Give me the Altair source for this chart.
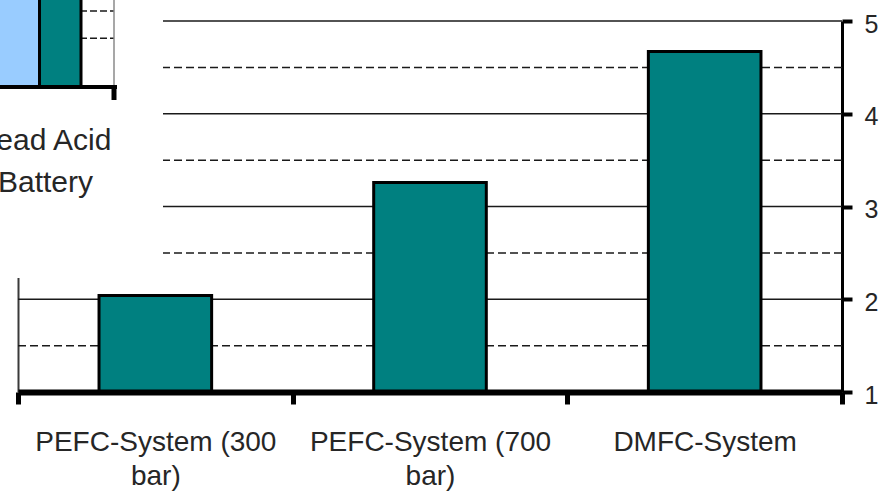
import altair as alt
import pandas as pd

# ---- data -------------------------------------------------------------
SYSTEMS = ["PEFC-System (300 bar)", "PEFC-System (700 bar)", "DMFC-System"]
SYSTEM_VALUES = [2.04, 3.26, 4.67]

Y_TICKS = [1, 2, 3, 4, 5]
GRID_MAJOR = [2, 3, 4, 5]
GRID_MINOR = [1.5, 2.5, 3.5, 4.5]

# inset panel: lead acid battery, its bars run past the top edge
INSET_CATEGORY = "Lead Acid Battery"
INSET_SERIES = ["Series A", "Series B"]
INSET_VALUES = [4.6, 4.6]
INSET_GRID = [2, 3]
INSET_Y_DOMAIN = [0.2, 3]

# ---- styling / layout ---------------------------------------------------
TEAL = "#008080"
LIGHT_BLUE = "#99CCFF"
TEXT = "#262626"
FONT = "Liberation Sans"

W, H = 824, 371
PAD = {"left": 18, "top": 21, "right": 42, "bottom": 104}

# inset frame, in plot-area pixels
INSET_X_RANGE = [-20, 63]
INSET_Y_RANGE = [66, -10]
INSET_RIGHT = 96
INSET_BG = dict(x=-18, x2=145, y=-21, y2=257)

SPLIT = ("lastindexof({s}, ' ') > 0 ? [substring({s}, 0, lastindexof({s}, ' ')), "
         "substring({s}, lastindexof({s}, ' ') + 1)] : {s}")

main_df = pd.DataFrame({"system": SYSTEMS, "value": SYSTEM_VALUES})
inset_df = pd.DataFrame({
    "category": [INSET_CATEGORY] * len(INSET_SERIES),
    "series": INSET_SERIES,
    "value": INSET_VALUES,
})
one = pd.DataFrame({"k": [0]})

y_main = alt.Scale(domain=[1, 5], zero=False, nice=False)

# ---- main panel ---------------------------------------------------------
grid_major = alt.Chart(pd.DataFrame({"g": GRID_MAJOR})).mark_rule(
    color="#1a1a1a", strokeWidth=1.5
).encode(
    y=alt.Y("g:Q", scale=y_main,
            axis=alt.Axis(orient="left", domainColor="#3a3a3a", domainWidth=2,
                          ticks=False, labels=False, grid=False, title=None))
)

grid_minor = alt.Chart(pd.DataFrame({"g": GRID_MINOR})).mark_rule(
    color="#1a1a1a", strokeWidth=1.5, strokeDash=[8, 4]
).encode(y=alt.Y("g:Q", scale=y_main, axis=None))

bars = alt.Chart(main_df).mark_bar(
    color=TEAL, stroke="black", strokeWidth=3, width=alt.RelativeBandSize(0.41)
).encode(
    x=alt.X("system:N", sort=SYSTEMS, title=None,
            scale=alt.Scale(paddingInner=0, paddingOuter=0),
            axis=alt.Axis(orient="bottom", zindex=1, tickBand="extent",
                          domainColor="black", domainWidth=6,
                          tickColor="black", tickWidth=5, tickSize=12,
                          labelAngle=0, labelFont=FONT, labelFontSize=28,
                          labelColor=TEXT, labelPadding=24, labelLineHeight=34,
                          labelLimit=400,
                          labelExpr=SPLIT.format(s="datum.label"))),
    y=alt.Y("value:Q", scale=y_main, title=None,
            axis=alt.Axis(orient="right", values=Y_TICKS, grid=False,
                          domainColor="black", domainWidth=3,
                          tickColor="black", tickWidth=4, tickSize=10,
                          labelFont=FONT, labelFontSize=25, labelColor=TEXT,
                          labelPadding=12, labelOffset=3)),
    y2=alt.datum(1),
)

# ---- inset panel ----------------------------------------------------------
x_inset = alt.Scale(domain=[INSET_CATEGORY], range=INSET_X_RANGE,
                    paddingInner=0, paddingOuter=0)
y_inset = alt.Scale(domain=INSET_Y_DOMAIN, range=INSET_Y_RANGE,
                    zero=False, nice=False)

inset_bg = alt.Chart(one).mark_rect(color="white").encode(
    x=alt.value(INSET_BG["x"]), x2=alt.value(INSET_BG["x2"]),
    y=alt.value(INSET_BG["y"]), y2=alt.value(INSET_BG["y2"]),
)

inset_grid = alt.Chart(pd.DataFrame({"g": INSET_GRID})).mark_rule(
    color="#1a1a1a", strokeWidth=1.5, strokeDash=[7, 3]
).encode(
    y=alt.Y("g:Q", scale=y_inset, axis=None),
    x=alt.value(INSET_BG["x"]), x2=alt.value(INSET_RIGHT),
)

inset_frame = alt.Chart(one).mark_rule(color="#8a8a8a", strokeWidth=1.5).encode(
    x=alt.value(INSET_RIGHT), y=alt.value(INSET_BG["y"]),
    y2=alt.value(INSET_Y_RANGE[0]),
)

inset_bars = alt.Chart(inset_df).mark_bar(stroke="black").encode(
    x=alt.X("category:N", scale=x_inset, axis=None),
    xOffset=alt.XOffset("series:N", sort=INSET_SERIES,
                        scale=alt.Scale(paddingInner=0, paddingOuter=0)),
    y=alt.Y("value:Q", scale=y_inset, axis=None),
    y2=alt.datum(INSET_Y_DOMAIN[0]),
    fill=alt.Fill("series:N", sort=INSET_SERIES, legend=None,
                  scale=alt.Scale(domain=INSET_SERIES, range=[LIGHT_BLUE, TEAL])),
    strokeWidth=alt.StrokeWidth("series:N", legend=None,
                                scale=alt.Scale(domain=INSET_SERIES, range=[0, 3])),
)

inset_axis = alt.Chart(one).mark_rule(color="black", strokeWidth=4).encode(
    x=alt.value(INSET_BG["x"]), x2=alt.value(INSET_RIGHT + 3),
    y=alt.value(INSET_Y_RANGE[0]),
)
inset_tick = alt.Chart(one).mark_rule(color="black", strokeWidth=5).encode(
    x=alt.value(INSET_RIGHT), y=alt.value(INSET_Y_RANGE[0]),
    y2=alt.value(INSET_Y_RANGE[0] + 13),
)

inset_label = alt.Chart(pd.DataFrame({"category": [INSET_CATEGORY]})).transform_calculate(
    lines=SPLIT.format(s="datum.category")
).mark_text(
    font=FONT, fontSize=30, color=TEXT, align="center", baseline="top",
    lineHeight=42, dx=6,
).encode(
    x=alt.X("category:N", scale=x_inset, axis=None),
    y=alt.value(105),
    text="lines:N",
)

inset = alt.layer(inset_bg, inset_grid, inset_frame, inset_bars,
                  inset_axis, inset_tick, inset_label)

chart = alt.layer(grid_major, grid_minor, inset, bars).resolve_scale(
    x="independent", y="independent"
).properties(
    width=W, height=H, padding=PAD,
    autosize=alt.AutoSizeParams(type="none"),
    background="white",
).configure_view(stroke=None)

chart.save("out.html", embed_options={"renderer": "svg", "actions": False})
